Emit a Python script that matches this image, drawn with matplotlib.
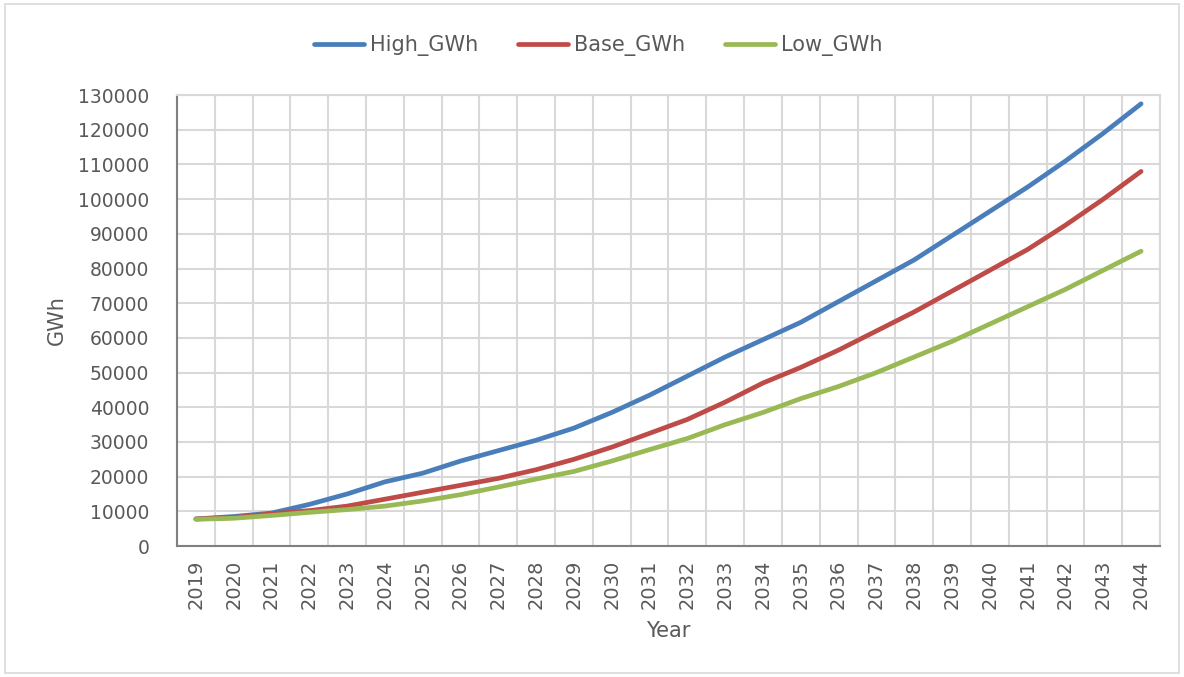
import numpy as np
import matplotlib.pyplot as plt
from matplotlib.patches import Rectangle

years = list(range(2019, 2045))

high_gwh = [7800, 8500, 9500, 12000, 15000, 18500, 21000, 24500, 27500, 30500,
            34000, 38500, 43500, 49000, 54500, 59500, 64500, 70500, 76500, 82500,
            89500, 96500, 103500, 111000, 119000, 127500]
base_gwh = [7800, 8200, 9300, 10200, 11500, 13500, 15500, 17500, 19500, 22000,
            25000, 28500, 32500, 36500, 41500, 47000, 51500, 56500, 62000, 67500,
            73500, 79500, 85500, 92500, 100000, 108000]
low_gwh = [7700, 8000, 8800, 9700, 10500, 11500, 13000, 14800, 17000, 19300,
           21500, 24500, 27800, 31000, 35000, 38500, 42500, 46000, 50000, 54500,
           59000, 64000, 69000, 74000, 79500, 85000]

series = [("High_GWh", high_gwh, "#4a7ebb"),
          ("Base_GWh", base_gwh, "#be4b48"),
          ("Low_GWh", low_gwh, "#98b954")]

text_col = "#595959"
grid_col = "#d9d9d9"

fig = plt.figure(figsize=(11.84, 6.77), dpi=100)
fig.patches.append(Rectangle((0.004, 0.006), 0.992, 0.988, transform=fig.transFigure,
                             fill=False, edgecolor="#d9d9d9", linewidth=1.2))
ax = fig.add_axes([0.1495, 0.1935, 0.8302, 0.666])

x = np.arange(len(years))
for name, vals, col in series:
    ax.plot(x, vals, color=col, linewidth=3.4, solid_capstyle="round", label=name)

ax.set_xlim(-0.5, len(years) - 0.5)
ax.set_ylim(0, 130000)
ax.set_yticks(range(0, 130001, 10000))
ax.set_xticks(x)
ax.set_xticklabels([str(y) for y in years], rotation=90)
ax.set_xticks(np.arange(-0.5, len(years), 1.0), minor=True)

ax.grid(True, which="minor", axis="x", color=grid_col, linewidth=1.5)
ax.grid(True, which="major", axis="y", color=grid_col, linewidth=1.5)
ax.set_axisbelow(True)
ax.tick_params(axis="both", which="both", length=0, labelsize=13.5, labelcolor=text_col)
ax.tick_params(axis="y", pad=20)
ax.tick_params(axis="x", pad=10, labelsize=14)

for side in ("top", "right"):
    ax.spines[side].set_color(grid_col)
    ax.spines[side].set_linewidth(1.5)
for side in ("left", "bottom"):
    ax.spines[side].set_color("#808080")
    ax.spines[side].set_linewidth(1.5)

ax.set_ylabel("GWh", fontsize=15, color=text_col, labelpad=8)
ax.set_xlabel("Year", fontsize=15, color=text_col, labelpad=8)

leg = fig.legend(loc="center", bbox_to_anchor=(0.505, 0.933), ncol=3, frameon=False,
                 fontsize=15, handlelength=2.4, handletextpad=0.3, columnspacing=1.9)
for t in leg.get_texts():
    t.set_color(text_col)

fig.savefig("out.png", dpi=100)
